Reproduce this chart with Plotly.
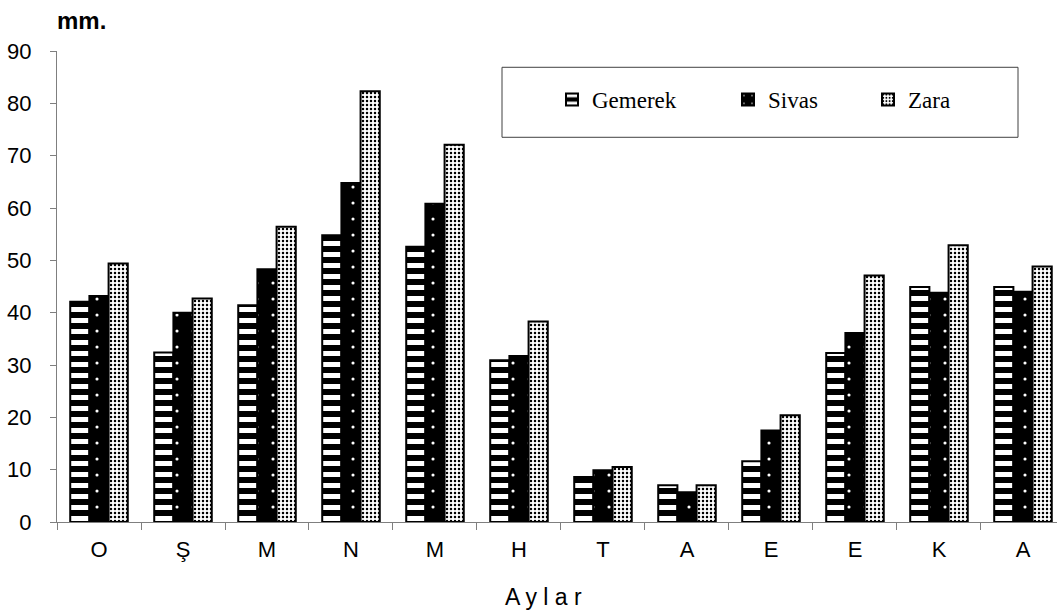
import plotly.graph_objects as go

# Monthly precipitation (mm) for three stations
months = ["O", "Ş", "M", "N", "M", "H", "T", "A", "E", "E", "K", "A"]
gemerek = [42.1, 32.4, 41.4, 54.8, 52.6, 30.9, 8.6, 7.0, 11.6, 32.3, 44.9, 44.9]
sivas = [43.2, 40.0, 48.3, 64.8, 60.8, 31.7, 9.9, 5.7, 17.5, 36.1, 43.8, 44.0]
zara = [49.4, 42.7, 56.4, 82.3, 72.1, 38.3, 10.5, 7.0, 20.4, 47.1, 52.9, 48.8]

x_pos = list(range(len(months)))
axis_grey = "#7f7f7f"
sans = "Liberation Sans, Arial, sans-serif"
serif = "Liberation Serif, Times New Roman, serif"

fig = go.Figure()
fig.add_trace(go.Bar(
    x=x_pos, y=gemerek, name="Gemerek", legend="legend",
    marker=dict(color="black", line=dict(color="black", width=2),
                pattern=dict(shape="-", fgcolor="white", bgcolor="black",
                             size=11, solidity=0.45, fillmode="replace")),
))
fig.add_trace(go.Bar(
    x=x_pos, y=sivas, name="Sivas", legend="legend2",
    marker=dict(color="black", line=dict(color="black", width=2),
                pattern=dict(shape=".", fgcolor="white", bgcolor="black",
                             size=16, solidity=0.03, fillmode="replace")),
))
fig.add_trace(go.Bar(
    x=x_pos, y=zara, name="Zara", legend="legend3",
    marker=dict(color="white", line=dict(color="black", width=2),
                pattern=dict(shape=".", fgcolor="black", bgcolor="white",
                             size=4, solidity=0.3, fillmode="replace")),
))

legend_common = dict(
    orientation="h", xanchor="left", yanchor="middle", y=0.897,
    bgcolor="rgba(0,0,0,0)", borderwidth=0,
    font=dict(family=serif, size=23, color="black"),
    itemclick=False, itemdoubleclick=False,
)

fig.update_layout(
    width=1057, height=612, autosize=False,
    margin=dict(l=57, r=0, t=51, b=90, pad=0),
    plot_bgcolor="white", paper_bgcolor="white",
    barmode="group", bargap=0.315, bargroupgap=0,
    showlegend=True,
    legend=dict(x=0.495, **legend_common),
    legend2=dict(x=0.671, **legend_common),
    legend3=dict(x=0.811, **legend_common),
    xaxis=dict(
        range=[-0.5, 11.405], tickmode="array", tickvals=x_pos, ticktext=months,
        ticks="", showline=True, linecolor=axis_grey, linewidth=1,
        showgrid=False, zeroline=False,
        tickfont=dict(family=sans, size=22, color="black"),
        ticklabelstandoff=8,
        minor=dict(ticks="outside", ticklen=7, tickcolor=axis_grey, tickwidth=1,
                   tickmode="linear", tick0=0.5, dtick=1, showgrid=False),
    ),
    yaxis=dict(
        range=[0, 90], dtick=10, tick0=0, ticks="outside", ticklen=6,
        tickcolor=axis_grey, showline=True, linecolor=axis_grey, linewidth=1,
        showgrid=False, zeroline=False,
        tickfont=dict(family=sans, size=22, color="black"),
        ticklabelstandoff=14,
    ),
    shapes=[dict(type="rect", xref="paper", yref="paper",
                 x0=0.445, x1=0.961, y0=0.8168, y1=0.9654,
                 line=dict(color="#404040", width=1), fillcolor="rgba(0,0,0,0)",
                 layer="below")],
    annotations=[
        dict(text="<b>mm.</b>", xref="paper", yref="paper", x=-0.002, y=1.031,
             xanchor="left", yanchor="bottom", showarrow=False,
             font=dict(family=sans, size=24, color="black")),
        dict(text="A y l a r", xref="paper", yref="paper", x=0.486, y=-0.159,
             xanchor="center", yanchor="middle", showarrow=False,
             font=dict(family=sans, size=23, color="black")),
    ],
)

fig.write_html("out.html")
